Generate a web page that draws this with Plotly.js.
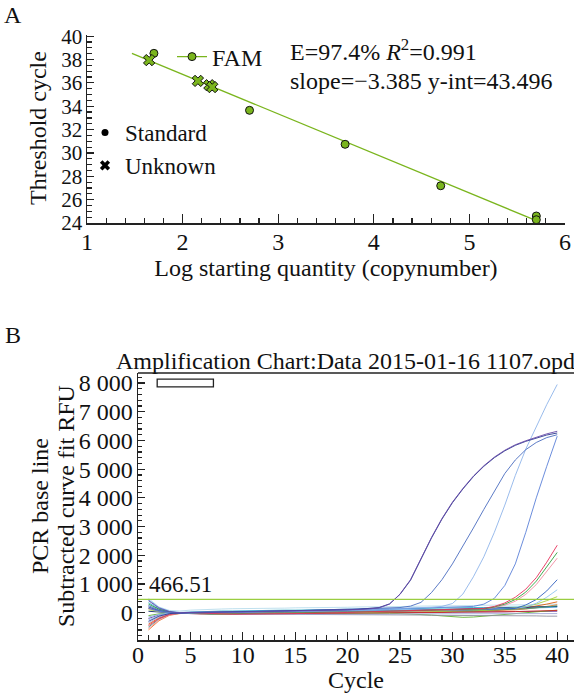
<!DOCTYPE html>
<html>
<head>
<meta charset="utf-8">
<script src="https://cdn.plot.ly/plotly-3.0.1.min.js"></script>
<style>html,body{margin:0;padding:0;background:#fff;}#chart{width:574px;height:693px;}</style>
</head>
<body>
<div id="chart"></div>
<script>
// ---------- Panel A data ----------
const stdX = [1.70, 2.70, 3.70, 4.70, 5.70, 5.70];
const stdY = [38.53, 33.65, 30.74, 27.19, 24.60, 24.28];
const unkX = [1.65, 2.16, 2.28, 2.31];
const unkY = [37.95, 36.17, 35.80, 35.64];
const fitSlope = -3.385;
const fitIntercept = 43.496;
const fitX = [1.47, 5.70];
const statsLine1 = "E=97.4% <i>R</i><sup>2</sup>=0.991";
const statsLine2 = "slope=\u22123.385 y-int=43.496";

// ---------- Panel B data ----------
const cycles = [1,2,3,4,5,6,7,8,9,10,11,12,13,14,15,16,17,18,19,20,21,22,23,24,25,26,27,28,29,30,31,32,33,34,35,36,37,38,39,40];
const threshold = 466.51;
const c1a = [420,160,40,-10,10,20,15,20,25,30,35,40,45,50,55,60,70,80,90,100,110,130,170,300,650,1150,1880,2620,3280,3850,4330,4760,5120,5420,5660,5850,5990,6120,6230,6320];
const c1b = [-300,-120,-30,0,10,15,20,25,25,30,40,40,50,55,60,65,75,85,95,105,120,140,180,310,640,1130,1860,2600,3260,3830,4310,4740,5100,5400,5640,5830,5970,6090,6190,6260];
const c2 = [250,90,20,-20,0,10,20,30,35,40,45,50,55,60,70,80,90,100,110,120,130,140,150,160,180,230,360,700,1150,1700,2300,2950,3600,4250,4850,5320,5680,5930,6100,6200];
const c3 = [-150,-60,-10,0,5,10,20,25,30,35,40,50,55,60,70,75,80,90,100,105,110,120,130,140,150,160,170,190,220,320,650,1250,1950,2800,3750,4780,5700,6500,7250,7950];
const c4 = [150,50,0,-20,-10,0,10,15,20,30,35,40,45,50,55,60,70,75,80,90,100,110,120,130,140,150,160,170,180,190,200,220,300,500,950,1700,2800,4000,5100,6150];
const c5 = [-450,-200,-60,-10,0,-20,-30,-40,-50,-50,-50,-40,-40,-30,-30,-20,-20,-10,0,10,20,30,40,50,60,70,80,90,100,110,120,130,150,220,340,540,820,1220,1760,2350];
const c6 = [300,120,20,-20,-10,-30,-40,-40,-30,-30,-20,-20,-10,-10,0,0,10,10,20,20,30,30,40,50,60,70,80,90,100,100,110,120,130,200,300,460,720,1100,1600,2100];
const c7 = [-550,-250,-80,-20,0,-10,-20,-30,-30,-20,-20,-10,-10,0,0,10,10,20,20,30,30,40,40,50,50,60,60,70,80,90,100,110,130,180,260,400,640,980,1420,1900];
const c8 = [200,70,10,-20,-20,-30,-30,-20,-20,-10,-10,0,0,10,10,20,20,30,30,40,40,50,50,60,60,70,70,80,80,90,90,100,110,120,130,150,270,460,760,1150];
const c9 = [-250,-100,-20,0,10,0,-10,-10,0,0,10,10,20,20,30,30,40,40,50,50,60,60,70,70,80,80,90,90,100,100,110,110,120,130,140,160,200,330,540,800];
const c10 = [100,40,0,-20,-30,-40,-40,-40,-30,-30,-20,-20,-10,-10,0,0,0,10,10,10,20,20,30,30,30,40,40,50,50,60,60,70,80,100,130,170,220,300,420,560];
const b1 = [-600,-280,-90,-30,-10,-20,-30,-40,-50,-50,-50,-50,-40,-40,-40,-30,-30,-20,-20,-10,-10,0,0,10,10,20,20,30,30,40,40,50,60,70,80,100,130,170,220,280];
const b2 = [-400,-180,-50,-10,0,-20,-40,-50,-60,-60,-60,-50,-50,-40,-40,-30,-30,-20,-20,-10,-10,-10,0,0,10,10,20,20,30,30,40,50,60,80,100,130,170,230,300,380];
const b3 = [350,130,30,0,20,40,50,60,60,70,70,80,80,90,90,100,100,110,110,120,120,130,130,140,140,150,150,160,160,170,170,180,180,190,190,200,200,210,210,220];
const b4 = [500,200,80,60,90,110,120,130,140,140,150,150,160,160,170,170,180,180,190,190,200,200,210,210,220,220,230,230,240,240,250,250,260,260,270,270,280,280,290,300];
const b5 = [-200,-80,-20,-10,-20,-30,-40,-40,-40,-40,-30,-30,-30,-20,-20,-20,-10,-10,-10,0,0,0,0,10,10,10,10,20,20,20,20,30,30,30,30,40,40,40,50,50];
const b6 = [50,20,0,-10,-10,-20,-20,-20,-10,-10,0,0,10,10,20,20,30,30,40,40,50,50,60,60,70,80,90,100,110,120,130,140,150,160,170,180,190,200,210,220];
const b7 = [-100,-40,-10,-10,-20,-30,-40,-40,-40,-30,-30,-30,-20,-20,-20,-10,-10,-10,0,0,0,0,-10,-20,-30,-40,-60,-80,-110,-140,-160,-150,-120,-90,-60,-30,0,30,60,90];
const b8 = [200,80,20,-10,-20,-30,-30,-40,-40,-40,-40,-50,-50,-50,-50,-60,-60,-60,-60,-70,-70,-70,-70,-80,-80,-80,-80,-90,-90,-90,-90,-100,-100,-100,-100,-110,-110,-110,-120,-120];
const b9 = [-350,-150,-40,-20,-30,-50,-60,-60,-60,-60,-60,-70,-70,-70,-70,-60,-60,-60,-60,-50,-50,-50,-50,-50,-40,-40,-40,-40,-40,-30,-30,-30,-30,-30,-30,-30,-30,-30,-30,-30];
const b10 = [150,60,10,-20,-30,-40,-40,-40,-40,-30,-30,-30,-30,-20,-20,-20,-20,-10,-10,-10,-10,0,0,0,0,10,10,10,10,20,20,20,30,30,40,40,50,60,70,80];
const b11 = [-500,-220,-70,-20,-10,-20,-20,-20,-10,-10,0,0,10,10,10,20,20,20,30,30,30,40,40,40,50,50,50,60,60,60,70,70,80,90,100,120,140,170,200,240];
const b12 = [450,180,50,10,20,30,40,40,50,50,50,60,60,60,70,70,70,80,80,80,90,90,90,100,100,100,110,110,110,120,120,130,130,140,140,150,160,170,180,190];

const curveSeries = [
  {y: b4, c: '#b8dcec'}, {y: b3, c: '#30b0c8'}, {y: b12, c: '#60a0e0'},
  {y: b1, c: '#f07828'}, {y: b2, c: '#e06010'}, {y: b5, c: '#7040a0'},
  {y: b6, c: '#142870'}, {y: b7, c: '#60b030'}, {y: b8, c: '#9090a0'},
  {y: b9, c: '#a0a8d8'}, {y: b10, c: '#d02828'}, {y: b11, c: '#40a080'},
  {y: c10, c: '#a8d040'}, {y: c9, c: '#90c4f0'}, {y: c8, c: '#3060c0'},
  {y: c7, c: '#f28ca0'}, {y: c6, c: '#30a040'}, {y: c5, c: '#e8305a'},
  {y: c4, c: '#5a80d8'}, {y: c3, c: '#8fb4ea'}, {y: c2, c: '#4a6cc0'},
  {y: c1b, c: '#2b3a8f'}, {y: c1a, c: '#6848a8'}
];

const serif = 'Liberation Serif';
const FS = 24;
const W = 574, H = 693;
const px = v => v / W;
const py = v => 1 - v / H;

const green = '#7ab51d';
const traces = [];

traces.push({
  x: fitX, y: fitX.map(v => fitSlope * v + fitIntercept),
  xaxis: 'x', yaxis: 'y', mode: 'lines',
  line: {color: green, width: 1.3}, showlegend: false, hoverinfo: 'skip'
});
traces.push({
  x: stdX, y: stdY, xaxis: 'x', yaxis: 'y', mode: 'markers', name: 'Standard points',
  marker: {symbol: 'circle', size: 8, color: green, line: {color: '#111', width: 1}},
  showlegend: false
});
traces.push({
  x: unkX, y: unkY, xaxis: 'x', yaxis: 'y', mode: 'markers', name: 'Unknown points',
  marker: {symbol: 'x', size: 10, color: green, line: {color: '#111', width: 1}},
  showlegend: false
});
traces.push({
  x: [null], y: [null], xaxis: 'x', yaxis: 'y', mode: 'lines+markers', name: 'FAM',
  line: {color: green, width: 1.3},
  marker: {symbol: 'circle', size: 8, color: green, line: {color: '#111', width: 1}},
  legend: 'legend'
});
traces.push({
  x: [null], y: [null], xaxis: 'x', yaxis: 'y', mode: 'markers', name: 'Standard',
  marker: {symbol: 'circle', size: 7, color: '#000'}, legend: 'legend2'
});
traces.push({
  x: [null], y: [null], xaxis: 'x', yaxis: 'y', mode: 'markers', name: 'Unknown',
  marker: {symbol: 'x', size: 9, color: '#000'}, legend: 'legend2'
});

curveSeries.forEach((s) => {
  traces.push({
    x: cycles, y: s.y, xaxis: 'x2', yaxis: 'y2', mode: 'lines',
    line: {color: s.c, width: 0.9}, showlegend: false, hoverinfo: 'skip'
  });
});

const axisCommon = {
  showline: true, linecolor: '#222', linewidth: 1.5, mirror: false,
  ticks: 'inside', tickcolor: '#222', tickwidth: 1.2,
  showgrid: false, zeroline: false,
  tickfont: {family: serif, size: FS, color: '#111'}
};

const layout = {
  width: W, height: H,
  margin: {l: 0, r: 0, t: 0, b: 0, pad: 0},
  paper_bgcolor: '#ffffff', plot_bgcolor: '#ffffff',
  separators: '. ',
  font: {family: serif, size: FS, color: '#111'},
  xaxis: Object.assign({}, axisCommon, {
    domain: [px(87), px(565)], anchor: 'y', range: [1, 6],
    tick0: 1, dtick: 1, ticklen: 9, ticklabelstandoff: -3,
    minor: {dtick: 0.2, ticks: 'inside', ticklen: 5, tickcolor: '#222', tickwidth: 1.2},
    title: {text: 'Log starting quantity (copynumber)', font: {family: serif, size: FS}, standoff: 0}
  }),
  yaxis: Object.assign({}, axisCommon, {
    domain: [py(223), py(35)], anchor: 'x', range: [24, 40.1],
    tick0: 24, dtick: 2, ticklen: 7, ticklabelstandoff: -1,
    tickfont: {family: serif, size: 21, color: '#111'},
    minor: {dtick: 0.5, ticks: 'inside', ticklen: 5, tickcolor: '#222', tickwidth: 1.2}
  }),
  xaxis2: Object.assign({}, axisCommon, {
    domain: [px(138), 1], anchor: 'y2', range: [0, 41.6],
    tick0: 0, dtick: 5, ticklen: 8, ticklabelstandoff: -7,
    minor: {dtick: 1, ticks: 'inside', ticklen: 5, tickcolor: '#222', tickwidth: 1.2},
    title: {text: 'Cycle', font: {family: serif, size: FS}, standoff: 0}
  }),
  yaxis2: Object.assign({}, axisCommon, {
    domain: [py(640), py(373)], anchor: 'x2', range: [-950, 8350],
    tick0: 0, dtick: 1000, ticklen: 7, separatethousands: true, tickformat: ',d',
    ticklabelstandoff: -1,
    minor: {dtick: 200, ticks: 'inside', ticklen: 4, tickcolor: '#222', tickwidth: 1.2}
  }),
  legend: {
    x: px(172), y: py(57), xanchor: 'left', yanchor: 'middle',
    bgcolor: 'rgba(0,0,0,0)', font: {family: serif, size: FS, color: '#111'},
    itemwidth: 30, tracegroupgap: 0
  },
  legend2: {
    x: px(85), y: py(149), xanchor: 'left', yanchor: 'middle',
    bgcolor: 'rgba(0,0,0,0)', font: {family: serif, size: FS - 1, color: '#111'},
    itemwidth: 30, tracegroupgap: 0
  },
  shapes: [
    {type: 'line', xref: 'x2 domain', yref: 'y2', x0: 0, x1: 1, y0: threshold, y1: threshold,
     line: {color: '#9acd40', width: 1.2}},
    {type: 'line', xref: 'x2 domain', yref: 'y2 domain', x0: 0, x1: 1, y0: 1, y1: 1,
     line: {color: '#222', width: 1.5}},
    {type: 'rect', xref: 'x2 domain', yref: 'y2 domain', x0: 0.044, x1: 0.173, y0: 0.948, y1: 0.977,
     line: {color: '#222', width: 1.3}, fillcolor: '#fff'}
  ],
  annotations: [
    {text: 'A', xref: 'paper', yref: 'paper', x: px(13), y: py(15), showarrow: false,
     xanchor: 'center', yanchor: 'middle', font: {family: serif, size: FS}},
    {text: 'B', xref: 'paper', yref: 'paper', x: px(13), y: py(335), showarrow: false,
     xanchor: 'center', yanchor: 'middle', font: {family: serif, size: FS}},
    {text: statsLine1, xref: 'paper', yref: 'paper', x: px(288), y: py(50), showarrow: false,
     xanchor: 'left', yanchor: 'middle', font: {family: serif, size: FS}},
    {text: statsLine2, xref: 'paper', yref: 'paper', x: px(288), y: py(81), showarrow: false,
     xanchor: 'left', yanchor: 'middle', font: {family: serif, size: FS}},
    {text: 'Threshold cycle', xref: 'paper', yref: 'paper', x: px(38), y: py(128), showarrow: false,
     textangle: -90, xanchor: 'center', yanchor: 'middle', font: {family: serif, size: FS}},
    {text: 'Amplification Chart:Data 2015-01-16 1107.opd', xref: 'paper', yref: 'paper',
     x: px(114), y: py(361), showarrow: false, xanchor: 'left', yanchor: 'middle',
     font: {family: serif, size: FS}},
    {text: 'PCR base line', xref: 'paper', yref: 'paper',
     x: px(40), y: py(506), showarrow: false, textangle: -90, xanchor: 'center', yanchor: 'middle',
     font: {family: serif, size: FS}},
    {text: 'Subtracted curve fit RFU', xref: 'paper', yref: 'paper',
     x: px(66), y: py(506), showarrow: false, textangle: -90, xanchor: 'center', yanchor: 'middle',
     font: {family: serif, size: FS}},
    {text: String(threshold), xref: 'paper', yref: 'y2', x: px(147), y: threshold, yshift: 0,
     showarrow: false, xanchor: 'left', yanchor: 'bottom', font: {family: serif, size: 23}}
  ]
};

Plotly.newPlot('chart', traces, layout, {displayModeBar: false, staticPlot: true});
</script>
</body>
</html>
